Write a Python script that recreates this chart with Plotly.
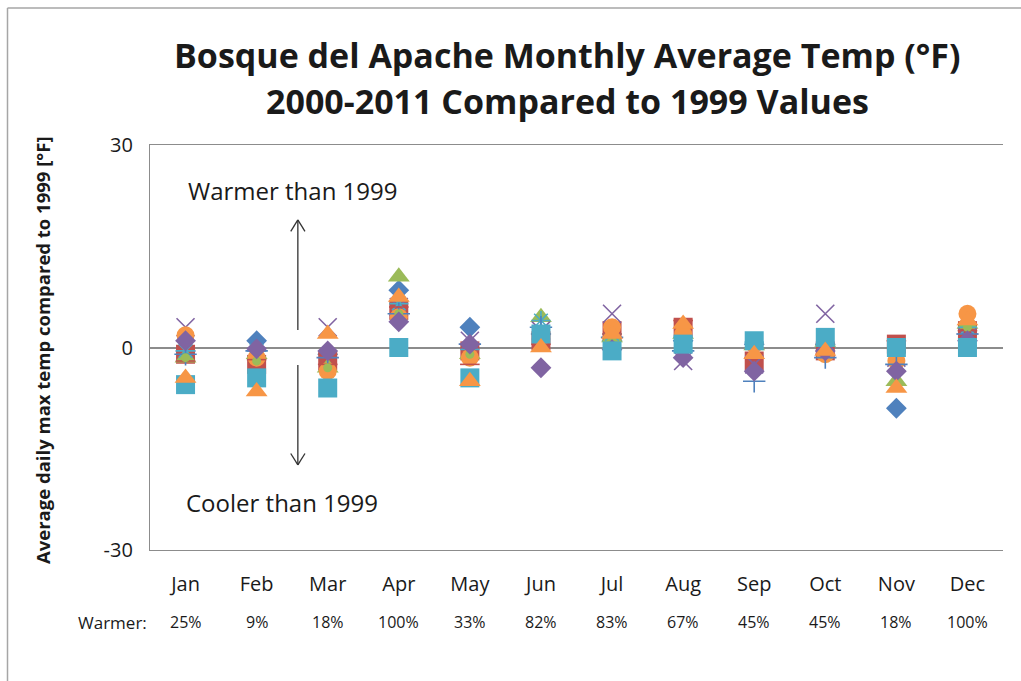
import plotly.graph_objects as go

months = ["Jan", "Feb", "Mar", "Apr", "May", "Jun", "Jul", "Aug", "Sep", "Oct", "Nov", "Dec"]
month_pos = list(range(1, 13))
warmer_pct = ["25%", "9%", "18%", "100%", "33%", "82%", "83%", "67%", "45%", "45%", "18%", "100%"]
years = [str(y) for y in range(2000, 2012)]

# Monthly average temp difference vs 1999 (°F), one list per year (None = no data)
y2000 = [-0.5, 1.0, -1.0, 8.5, 3.0, 2.0, 1.0, 1.0, 0.5, 0.5, -9.0, 2.0]
y2001 = [-1.0, -2.5, -2.0, 5.5, -0.5, 1.0, 2.5, 3.0, -2.0, -0.5, 0.5, 2.5]
y2002 = [-1.5, -1.0, -3.0, 10.5, -1.0, 4.5, 1.5, 2.0, 0.3, 0.8, -5.0, 3.5]
y2003 = [3.0, None, 3.0, 6.0, 1.0, 2.5, 5.0, -2.0, -2.5, 5.0, -1.5, 1.5]
y2004 = [-0.5, -0.5, None, 6.5, -0.3, 4.0, 2.0, 1.5, 0.8, None, None, 3.0]
y2005 = [1.8, -1.5, -3.5, 4.5, -1.5, 1.5, 3.0, 2.0, 0.5, -1.0, -2.0, 5.0]
y2006 = [-1.0, -0.5, -1.5, 5.0, 0.5, 3.0, 1.5, -0.5, -5.0, -1.5, -2.5, 2.0]
y2007 = [-2.0, -1.8, -2.5, 6.0, -2.5, 0.5, 2.0, 4.0, -1.5, -1.0, 1.0, 2.5]
y2008 = [-1.5, -2.0, -3.0, 5.0, -1.0, None, 1.0, -0.5, None, 0.3, -4.0, 3.0]
y2009 = [1.0, -0.2, -0.5, 3.8, 0.5, -3.0, -0.3, -1.5, -3.5, -0.5, -3.5, 1.0]
y2010 = [-5.5, -4.5, -6.0, 0.0, -4.5, 2.0, -0.5, 0.5, 1.0, 1.5, 0.0, 0.0]
y2011 = [-4.5, -6.5, 2.0, 7.5, -5.0, 0.0, 2.0, 3.5, -1.0, -0.5, -6.0, 4.0]
series = [y2000, y2001, y2002, y2003, y2004, y2005, y2006, y2007, y2008, y2009, y2010, y2011]

colors = ["#4F81BD", "#C0504D", "#9BBB59", "#8064A2", "#4BACC6", "#F79646",
          "#4F81BD", "#C0504D", "#9BBB59", "#8064A2", "#4BACC6", "#F79646"]
symbols = ["diamond", "square", "triangle-up", "x-thin-open", "asterisk-open", "circle",
           "cross-thin-open", "line-ew-open", "circle", "diamond", "square", "triangle-up"]
sizes = [16, 19, 19, 18, 16, 18, 16, 14, 9, 16, 19, 19]

fig = go.Figure()
for name, vals, c, s, sz in zip(years, series, colors, symbols, sizes):
    open_sym = s.endswith("-open")
    fig.add_trace(go.Scatter(
        x=month_pos, y=vals, mode="markers", name=name,
        marker=dict(symbol=s, size=sz, color=c,
                    line=dict(width=1.6 if open_sym else 0, color=c)),
        showlegend=False))

L, R, T, B = 150, 18, 145, 131
W, H = 1021, 681
pw, ph = W - L - R, H - T - B

def px_x(p):
    return (p - L) / pw

def px_y(p):
    return (H - B - p) / ph

font = "'Open Sans', sans-serif"
txt = "#1a1a1a"

def ann(text, x, y, size, xref="paper", angle=0):
    return dict(text=text, xref=xref, yref="paper", x=x, y=y, xanchor="center", yanchor="middle",
                textangle=angle, showarrow=False, font=dict(size=size, color=txt, family=font))

annotations = [
    ann("<b>Bosque del Apache Monthly Average Temp (°F)</b>", px_x(567), px_y(55), 34),
    ann("<b>2000-2011 Compared to 1999 Values</b>", px_x(567), px_y(101), 34),
    ann("<b>Average daily max temp compared to 1999 [°F]</b>", px_x(42), px_y(350), 18.5, angle=-90),
    ann("Warmer than 1999", px_x(293), px_y(190), 24),
    ann("Cooler than 1999", px_x(282), px_y(502), 24),
    ann("Warmer:", px_x(112), px_y(622), 17),
]
for mp, pct in zip(month_pos, warmer_pct):
    annotations.append(ann(pct, mp, px_y(622), 16, xref="x"))

# arrows
ax = 2.58
acol = "#333333"
shapes = [
    dict(type="line", xref="x", yref="y", x0=ax, x1=ax, y0=2.6, y1=18.9, line=dict(color=acol, width=1.3)),
    dict(type="line", xref="x", yref="y", x0=ax - 0.1, x1=ax, y0=17.2, y1=18.9, line=dict(color=acol, width=1.3)),
    dict(type="line", xref="x", yref="y", x0=ax + 0.1, x1=ax, y0=17.2, y1=18.9, line=dict(color=acol, width=1.3)),
    dict(type="line", xref="x", yref="y", x0=ax, x1=ax, y0=-2.6, y1=-17.4, line=dict(color=acol, width=1.3)),
    dict(type="line", xref="x", yref="y", x0=ax - 0.1, x1=ax, y0=-15.7, y1=-17.4, line=dict(color=acol, width=1.3)),
    dict(type="line", xref="x", yref="y", x0=ax + 0.1, x1=ax, y0=-15.7, y1=-17.4, line=dict(color=acol, width=1.3)),
    # outer frame
    dict(type="line", xref="paper", yref="paper", x0=px_x(7.5), x1=px_x(7.5), y0=px_y(690), y1=px_y(8),
         line=dict(color="#a6a6a6", width=1.5)),
    dict(type="line", xref="paper", yref="paper", x0=px_x(7.5), x1=px_x(1030), y0=px_y(8), y1=px_y(8),
         line=dict(color="#a6a6a6", width=1.5)),
]

grid = "#8c8c8c"
fig.update_layout(
    width=W, height=H, margin=dict(l=L, r=R, t=T, b=B),
    plot_bgcolor="white", paper_bgcolor="white",
    font=dict(family=font, color=txt),
    annotations=annotations, shapes=shapes,
    xaxis=dict(range=[0.5, 12.5], tickmode="array", tickvals=month_pos, ticktext=months,
               showgrid=False, zeroline=False, showline=True, mirror=True, linecolor=grid, linewidth=1.2,
               ticks="", ticklabelstandoff=16, tickfont=dict(size=20, color=txt)),
    yaxis=dict(range=[-30, 30], tickmode="array", tickvals=[-30, 0, 30], ticktext=["-30", "0", "30"],
               showgrid=False, zeroline=True, zerolinecolor=grid, zerolinewidth=1.5,
               showline=True, linecolor=grid, linewidth=1.2, ticks="",
               ticklabelstandoff=12, tickfont=dict(size=20, color=txt)),
)

fig.write_html("out.html", config={"displayModeBar": False},
               post_script="document.body.style.margin='0';")
